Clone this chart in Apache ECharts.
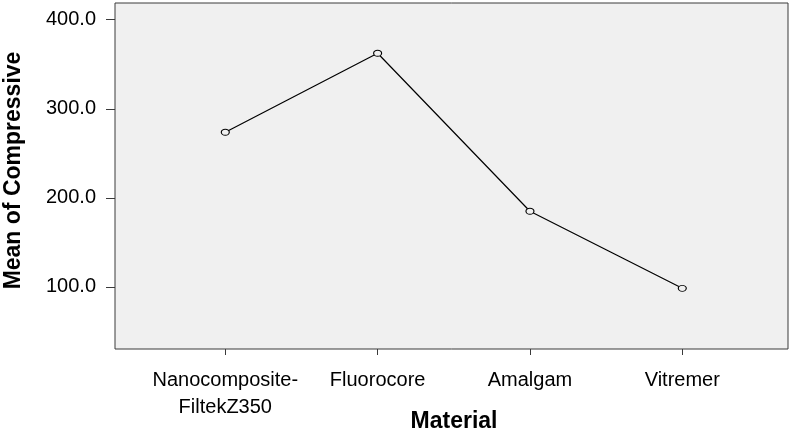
<!DOCTYPE html>
<html>
<head>
<meta charset="utf-8">
<script src="https://cdn.jsdelivr.net/npm/echarts@6/dist/echarts.min.js"></script>
<style>
html,body{margin:0;padding:0;background:#fff;}
#chart{width:796px;height:435px;}
</style>
</head>
<body>
<div id="chart"></div>
<script>
var categories = ['Nanocomposite-\nFiltekZ350', 'Fluorocore', 'Amalgam', 'Vitremer'];
var meanCompressive = [273.6, 362.3, 185.0, 98.5];
var yTicks = [100, 200, 300, 400];
var xTitle = 'Material';
var yTitle = 'Mean of Compressive';

var FONT = '"Liberation Sans", Arial, Helvetica, sans-serif';
var chart = echarts.init(document.getElementById('chart'), null, {renderer: 'canvas'});
var xTickValues = categories.map(function (c, i) { return i; });

chart.setOption({
  animation: false,
  backgroundColor: '#ffffff',
  grid: {
    left: 115, right: 8, top: 3, bottom: 86,
    containLabel: false,
    outerBoundsMode: 'none',
    show: true, backgroundColor: '#f0f0f0', borderColor: '#3a3a3a', borderWidth: 1
  },
  xAxis: {
    type: 'value',
    min: -0.724, max: 3.694,
    name: xTitle,
    nameLocation: 'middle',
    nameGap: 61,
    nameMoveOverlap: false,
    nameTextStyle: {fontFamily: FONT, fontSize: 23, fontWeight: 'bold', color: '#000', padding: [0, 0, 0, 5]},
    axisLine: {show: false, onZero: false},
    splitLine: {show: false},
    axisTick: {show: true, length: 6, customValues: xTickValues, lineStyle: {color: '#3a3a3a'}},
    axisLabel: {
      customValues: xTickValues,
      margin: 18,
      fontFamily: FONT, fontSize: 20, color: '#000', lineHeight: 27,
      formatter: function (v) { return categories[Math.round(v)] || ''; }
    }
  },
  yAxis: {
    type: 'value',
    min: 30.4, max: 418.7,
    name: yTitle,
    nameLocation: 'middle',
    nameGap: 90,
    nameMoveOverlap: false,
    nameTextStyle: {fontFamily: FONT, fontSize: 23, fontWeight: 'bold', color: '#000', padding: [0, 0, 0, 11]},
    axisLine: {show: false, onZero: false},
    splitLine: {show: false},
    axisTick: {show: true, length: 9, customValues: yTicks, lineStyle: {color: '#3a3a3a'}},
    axisLabel: {
      customValues: yTicks,
      margin: 19,
      fontFamily: FONT, fontSize: 20, color: '#000',
      formatter: function (v) { return v.toFixed(1); }
    }
  },
  series: [{
    type: 'line',
    data: meanCompressive.map(function (v, i) { return [i, v]; }),
    symbol: 'circle',
    symbolSize: [8, 6],
    showSymbol: true,
    lineStyle: {color: '#000', width: 1.2},
    itemStyle: {color: '#f0f0f0', borderColor: '#000', borderWidth: 1}
  }]
});
</script>
</body>
</html>
